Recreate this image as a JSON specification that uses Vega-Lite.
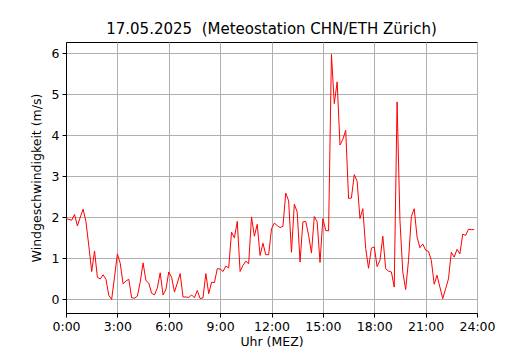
{
  "$schema": "https://vega.github.io/schema/vega-lite/v6.json",
  "width": 411,
  "height": 271,
  "autosize": {"type": "none"},
  "padding": {"left": 66, "top": 42, "right": 53, "bottom": 37},
  "background": "white",
  "config": {
    "font": "DejaVu Sans",
    "view": {"stroke": "black", "strokeWidth": 1},
    "axis": {
      "gridColor": "#b0b0b0",
      "gridWidth": 1,
      "gridOpacity": 1,
      "domainColor": "black",
      "tickColor": "black",
      "tickSize": 4,
      "labelFontSize": 12.5,
      "labelColor": "black",
      "titleFontSize": 12.5,
      "titleFontWeight": "normal",
      "titleColor": "black",
      "labelFont": "DejaVu Sans",
      "titleFont": "DejaVu Sans"
    }
  },
  "title": {
    "text": "17.05.2025 \u00a0(Meteostation CHN/ETH Zürich)",
    "fontSize": 15,
    "fontWeight": "normal",
    "font": "DejaVu Sans",
    "color": "black",
    "anchor": "middle",
    "offset": 5
  },
  "data": {
    "values": [
      {"zeit": "2025-05-17T00:00", "v": 1.97},
      {"zeit": "2025-05-17T00:10", "v": 1.95},
      {"zeit": "2025-05-17T00:20", "v": 1.93},
      {"zeit": "2025-05-17T00:30", "v": 2.07},
      {"zeit": "2025-05-17T00:40", "v": 1.79},
      {"zeit": "2025-05-17T00:50", "v": 2.0},
      {"zeit": "2025-05-17T01:00", "v": 2.2},
      {"zeit": "2025-05-17T01:10", "v": 1.89},
      {"zeit": "2025-05-17T01:20", "v": 1.3},
      {"zeit": "2025-05-17T01:30", "v": 0.68},
      {"zeit": "2025-05-17T01:40", "v": 1.18},
      {"zeit": "2025-05-17T01:50", "v": 0.54},
      {"zeit": "2025-05-17T02:00", "v": 0.5},
      {"zeit": "2025-05-17T02:10", "v": 0.6},
      {"zeit": "2025-05-17T02:20", "v": 0.49},
      {"zeit": "2025-05-17T02:30", "v": 0.1},
      {"zeit": "2025-05-17T02:40", "v": 0.0},
      {"zeit": "2025-05-17T02:50", "v": 0.55},
      {"zeit": "2025-05-17T03:00", "v": 1.11},
      {"zeit": "2025-05-17T03:10", "v": 0.88},
      {"zeit": "2025-05-17T03:20", "v": 0.38},
      {"zeit": "2025-05-17T03:30", "v": 0.45},
      {"zeit": "2025-05-17T03:40", "v": 0.49},
      {"zeit": "2025-05-17T03:50", "v": 0.04},
      {"zeit": "2025-05-17T04:00", "v": 0.03},
      {"zeit": "2025-05-17T04:10", "v": 0.08},
      {"zeit": "2025-05-17T04:20", "v": 0.42},
      {"zeit": "2025-05-17T04:30", "v": 0.89},
      {"zeit": "2025-05-17T04:40", "v": 0.46},
      {"zeit": "2025-05-17T04:50", "v": 0.4},
      {"zeit": "2025-05-17T05:00", "v": 0.15},
      {"zeit": "2025-05-17T05:10", "v": 0.11},
      {"zeit": "2025-05-17T05:20", "v": 0.28},
      {"zeit": "2025-05-17T05:30", "v": 0.65},
      {"zeit": "2025-05-17T05:40", "v": 0.11},
      {"zeit": "2025-05-17T05:50", "v": 0.24},
      {"zeit": "2025-05-17T06:00", "v": 0.67},
      {"zeit": "2025-05-17T06:10", "v": 0.54},
      {"zeit": "2025-05-17T06:20", "v": 0.18},
      {"zeit": "2025-05-17T06:30", "v": 0.4},
      {"zeit": "2025-05-17T06:40", "v": 0.63},
      {"zeit": "2025-05-17T06:50", "v": 0.06},
      {"zeit": "2025-05-17T07:00", "v": 0.06},
      {"zeit": "2025-05-17T07:10", "v": 0.05},
      {"zeit": "2025-05-17T07:20", "v": 0.11},
      {"zeit": "2025-05-17T07:30", "v": 0.04},
      {"zeit": "2025-05-17T07:40", "v": 0.22},
      {"zeit": "2025-05-17T07:50", "v": 0.02},
      {"zeit": "2025-05-17T08:00", "v": 0.04},
      {"zeit": "2025-05-17T08:10", "v": 0.63},
      {"zeit": "2025-05-17T08:20", "v": 0.14},
      {"zeit": "2025-05-17T08:30", "v": 0.42},
      {"zeit": "2025-05-17T08:40", "v": 0.41},
      {"zeit": "2025-05-17T08:50", "v": 0.75},
      {"zeit": "2025-05-17T09:00", "v": 0.74},
      {"zeit": "2025-05-17T09:10", "v": 0.68},
      {"zeit": "2025-05-17T09:20", "v": 0.81},
      {"zeit": "2025-05-17T09:30", "v": 0.77},
      {"zeit": "2025-05-17T09:40", "v": 1.64},
      {"zeit": "2025-05-17T09:50", "v": 1.5},
      {"zeit": "2025-05-17T10:00", "v": 1.9},
      {"zeit": "2025-05-17T10:10", "v": 0.68},
      {"zeit": "2025-05-17T10:20", "v": 0.83},
      {"zeit": "2025-05-17T10:30", "v": 0.93},
      {"zeit": "2025-05-17T10:40", "v": 0.87},
      {"zeit": "2025-05-17T10:50", "v": 2.01},
      {"zeit": "2025-05-17T11:00", "v": 1.54},
      {"zeit": "2025-05-17T11:10", "v": 1.83},
      {"zeit": "2025-05-17T11:20", "v": 1.07},
      {"zeit": "2025-05-17T11:30", "v": 1.37},
      {"zeit": "2025-05-17T11:40", "v": 1.09},
      {"zeit": "2025-05-17T11:50", "v": 1.09},
      {"zeit": "2025-05-17T12:00", "v": 1.72},
      {"zeit": "2025-05-17T12:10", "v": 1.86},
      {"zeit": "2025-05-17T12:20", "v": 1.8},
      {"zeit": "2025-05-17T12:30", "v": 1.75},
      {"zeit": "2025-05-17T12:40", "v": 1.78},
      {"zeit": "2025-05-17T12:50", "v": 2.59},
      {"zeit": "2025-05-17T13:00", "v": 2.4},
      {"zeit": "2025-05-17T13:10", "v": 1.15},
      {"zeit": "2025-05-17T13:20", "v": 2.32},
      {"zeit": "2025-05-17T13:30", "v": 2.13},
      {"zeit": "2025-05-17T13:40", "v": 0.91},
      {"zeit": "2025-05-17T13:50", "v": 1.89},
      {"zeit": "2025-05-17T14:00", "v": 1.9},
      {"zeit": "2025-05-17T14:10", "v": 1.56},
      {"zeit": "2025-05-17T14:20", "v": 1.13},
      {"zeit": "2025-05-17T14:30", "v": 2.02},
      {"zeit": "2025-05-17T14:40", "v": 1.89},
      {"zeit": "2025-05-17T14:50", "v": 0.9},
      {"zeit": "2025-05-17T15:00", "v": 1.97},
      {"zeit": "2025-05-17T15:10", "v": 1.68},
      {"zeit": "2025-05-17T15:20", "v": 1.67},
      {"zeit": "2025-05-17T15:30", "v": 5.97},
      {"zeit": "2025-05-17T15:40", "v": 4.77},
      {"zeit": "2025-05-17T15:50", "v": 5.3},
      {"zeit": "2025-05-17T16:00", "v": 3.76},
      {"zeit": "2025-05-17T16:10", "v": 3.9},
      {"zeit": "2025-05-17T16:20", "v": 4.12},
      {"zeit": "2025-05-17T16:30", "v": 2.46},
      {"zeit": "2025-05-17T16:40", "v": 2.47},
      {"zeit": "2025-05-17T16:50", "v": 3.04},
      {"zeit": "2025-05-17T17:00", "v": 2.88},
      {"zeit": "2025-05-17T17:10", "v": 1.97},
      {"zeit": "2025-05-17T17:20", "v": 2.21},
      {"zeit": "2025-05-17T17:30", "v": 1.24},
      {"zeit": "2025-05-17T17:40", "v": 0.76},
      {"zeit": "2025-05-17T17:50", "v": 1.25},
      {"zeit": "2025-05-17T18:00", "v": 1.28},
      {"zeit": "2025-05-17T18:10", "v": 0.8},
      {"zeit": "2025-05-17T18:20", "v": 0.95},
      {"zeit": "2025-05-17T18:30", "v": 1.54},
      {"zeit": "2025-05-17T18:40", "v": 0.75},
      {"zeit": "2025-05-17T18:50", "v": 0.69},
      {"zeit": "2025-05-17T19:00", "v": 0.67},
      {"zeit": "2025-05-17T19:10", "v": 0.3},
      {"zeit": "2025-05-17T19:20", "v": 4.81},
      {"zeit": "2025-05-17T19:30", "v": 1.93},
      {"zeit": "2025-05-17T19:40", "v": 0.67},
      {"zeit": "2025-05-17T19:50", "v": 0.24},
      {"zeit": "2025-05-17T20:00", "v": 0.95},
      {"zeit": "2025-05-17T20:10", "v": 2.02},
      {"zeit": "2025-05-17T20:20", "v": 2.21},
      {"zeit": "2025-05-17T20:30", "v": 1.52},
      {"zeit": "2025-05-17T20:40", "v": 1.26},
      {"zeit": "2025-05-17T20:50", "v": 1.35},
      {"zeit": "2025-05-17T21:00", "v": 1.2},
      {"zeit": "2025-05-17T21:10", "v": 1.17},
      {"zeit": "2025-05-17T21:20", "v": 0.95},
      {"zeit": "2025-05-17T21:30", "v": 0.37},
      {"zeit": "2025-05-17T21:40", "v": 0.59},
      {"zeit": "2025-05-17T21:50", "v": 0.3},
      {"zeit": "2025-05-17T22:00", "v": 0.02},
      {"zeit": "2025-05-17T22:10", "v": 0.26},
      {"zeit": "2025-05-17T22:20", "v": 0.5},
      {"zeit": "2025-05-17T22:30", "v": 1.15},
      {"zeit": "2025-05-17T22:40", "v": 1.03},
      {"zeit": "2025-05-17T22:50", "v": 1.22},
      {"zeit": "2025-05-17T23:00", "v": 1.11},
      {"zeit": "2025-05-17T23:10", "v": 1.59},
      {"zeit": "2025-05-17T23:20", "v": 1.56},
      {"zeit": "2025-05-17T23:30", "v": 1.71},
      {"zeit": "2025-05-17T23:40", "v": 1.7},
      {"zeit": "2025-05-17T23:50", "v": 1.7}
    ]
  },
  "mark": {"type": "line", "color": "red", "strokeWidth": 1, "clip": true},
  "encoding": {
    "x": {
      "field": "zeit",
      "type": "temporal",
      "scale": {
        "domain": [
          {"year": 2025, "month": 5, "date": 17, "hours": 0},
          {"year": 2025, "month": 5, "date": 18, "hours": 0}
        ]
      },
      "axis": {
        "title": "Uhr (MEZ)",
        "values": [
          {"year": 2025, "month": 5, "date": 17, "hours": 0},
          {"year": 2025, "month": 5, "date": 17, "hours": 3},
          {"year": 2025, "month": 5, "date": 17, "hours": 6},
          {"year": 2025, "month": 5, "date": 17, "hours": 9},
          {"year": 2025, "month": 5, "date": 17, "hours": 12},
          {"year": 2025, "month": 5, "date": 17, "hours": 15},
          {"year": 2025, "month": 5, "date": 17, "hours": 18},
          {"year": 2025, "month": 5, "date": 17, "hours": 21},
          {"year": 2025, "month": 5, "date": 18, "hours": 0}
        ],
        "labelExpr": "date(datum.value) == 18 ? '24:00' : timeFormat(datum.value, '%-H:%M')",
        "labelPadding": 3,
        "titlePadding": 3,
        "labelFlush": false,
        "labelOverlap": false,
        "grid": true
      }
    },
    "y": {
      "field": "v",
      "type": "quantitative",
      "scale": {"domain": [-0.33, 6.27], "nice": false, "zero": false},
      "axis": {
        "title": "Windgeschwindigkeit (m/s)",
        "values": [0, 1, 2, 3, 4, 5, 6],
        "labelPadding": 3,
        "titlePadding": 8,
        "grid": true
      }
    }
  }
}
